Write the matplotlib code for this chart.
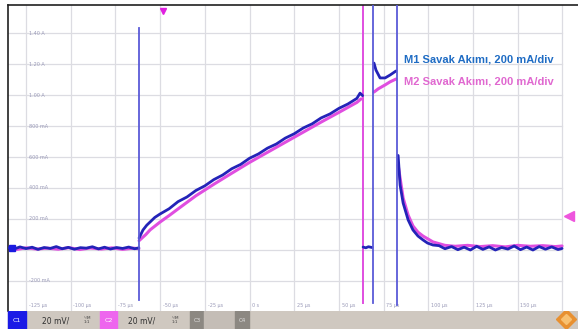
import matplotlib.pyplot as plt
from matplotlib.patches import Rectangle

# time in microseconds, current in mA (200 mA/div, 25 us/div)
base1_t = [-135.1, -131.8, -128.4, -125.0, -121.6, -118.3, -114.9, -111.5, -108.1, -104.8,
           -101.4, -98.0, -94.6, -91.3, -87.9, -84.5, -81.1, -77.8, -74.4, -71.0, -67.6, -64.3, -61.9]
base1_i = [14, 6, 20, 9, 18, 4, 16, 10, 22, 8, 17, 5, 15, 12, 21, 7, 18, 6, 16, 10, 19, 8, 14]

ramp1_t = [-61.8, -59.6, -57.5, -55.6, -53.0, -50.1, -45.0, -40.0, -35.0, -30.0, -25.0, -20.0,
           -15.0, -10.0, -5.0, 0.0, 5.0, 10.0, 15.0, 20.0, 25.0, 30.0, 35.0, 40.0, 45.0,
           50.0, 55.0, 60.0, 61.8, 63.2]
ramp1_i = [77, 129, 160, 181, 210, 232, 266, 312, 342, 384, 414, 454,
           484, 524, 552, 592, 620, 657, 684, 722, 750, 787, 814, 852, 878,
           914, 942, 978, 1012, 996]

gap1_t = [63.5, 65.0, 66.5, 68.5]
gap1_i = [19, 14, 21, 16]

mid1_t = [69.6, 70.7, 73.0, 75.8, 78.6, 81.9]
mid1_i = [1206, 1161, 1110, 1110, 1129, 1155]

decay1_t = [83.1, 84.2, 85.9, 88.7, 91.4, 94.2, 97.0, 99.5, 102.6, 106.0, 109.3,
            113.0, 116.5, 120.0, 123.5, 127.0, 130.5, 134.0, 137.5, 141.0, 144.5, 148.0,
            151.5, 155.0, 158.5, 162.0, 165.5, 169.0, 172.5, 174.8]
decay1_i = [610, 419, 303, 194, 129, 90, 65, 45, 32, 28, 8,
            22, 2, 18, 0, 24, 4, 20, 0, 16, 6, 26, 2, 19, 0, 22, 5, 20, 3, 10]

base2_t = [-135.1, -130.0, -125.0, -119.0, -113.0, -107.0, -101.0, -95.0, -89.0, -83.0,
           -77.0, -71.0, -65.0, -61.9]
base2_i = [10, 4, 14, 6, 12, 5, 15, 3, 13, 6, 14, 4, 12, 8]

ramp2_t = [-61.8, -58.0, -55.6, -50.1, -45.0, -40.0, -30.0, -20.0, -10.0, 0.0,
           10.0, 20.0, 30.0, 40.0, 50.0, 60.0, 62.4]
ramp2_i = [60, 100, 130, 180, 222, 265, 350, 424, 495, 565,
           630, 695, 760, 825, 888, 952, 975]

mid2_t = [69.6, 72.0, 75.8, 78.6, 81.9]
mid2_i = [1019, 1040, 1065, 1085, 1103]

decay2_t = [83.1, 85.9, 88.7, 91.4, 94.2, 97.0, 102.6, 109.3, 115.0, 122.0, 129.0,
            136.0, 143.0, 150.0, 157.0, 164.0, 171.0, 174.8]
decay2_i = [548, 335, 225, 155, 115, 90, 52, 30, 24, 30, 22, 28, 20, 30, 24, 28, 22, 26]

# vertical glitches: (time, bottom, top)
spikes_blue = [(-61.8, -323, 1432), (69.1, -342, 1581), (82.5, -355, 1581)]
spikes_pink = [(63.5, -342, 1581)]

y_labels = ['-200 mA', '', '200 mA', '400 mA', '600 mA', '800 mA', '1.00 A', '1.20 A', '1.40 A']
y_levels = [-200, 0, 200, 400, 600, 800, 1000, 1200, 1400]
x_levels = [-125, -100, -75, -50, -25, 0, 25, 50, 75, 100, 125, 150, 175]
x_labels = ['-125 µs', '-100 µs', '-75 µs', '-50 µs', '-25 µs', '0 s', '25 µs',
            '50 µs', '75 µs', '100 µs', '125 µs', '150 µs', '']

BLUE = '#2323b8'
PINK = '#e04ee0'

fig = plt.figure(figsize=(5.78, 3.29), dpi=100)
ax = fig.add_axes([8 / 578, 18 / 329, 570 / 578, 306 / 329])
ax.set_xlim(-135.1, 183.7)
ax.set_ylim(-393.6, 1580.7)
ax.set_xticks([])
ax.set_yticks([])
for s in ['right', 'bottom']:
    ax.spines[s].set_visible(False)
for s in ['top', 'left']:
    ax.spines[s].set_color('#202020')
    ax.spines[s].set_linewidth(1.2)

for xv in x_levels:
    ax.axvline(xv, color='#dcdce2', lw=0.9, zorder=0)
for yv in y_levels:
    ax.plot([-135.1, 175], [yv, yv], color='#dcdce2', lw=0.9, zorder=0)

for yv, lab in zip(y_levels, y_labels):
    ax.text(-123.5, yv, lab, fontsize=3.5, color='#9a9ab8', va='center', ha='left')
for xv, lab in zip(x_levels, x_labels):
    ax.text(xv + 1.5, -355, lab, fontsize=3.5, color='#9a9ab8', va='center', ha='left')

# pink trace (under)
for t, i in [(base2_t, base2_i), (ramp2_t, ramp2_i), (mid2_t, mid2_i), (decay2_t, decay2_i)]:
    ax.plot(t, i, color=PINK, lw=2.2, solid_capstyle='round', zorder=2)
for t, b, top in spikes_pink:
    ax.plot([t, t], [b, top], color=PINK, lw=1.4, zorder=2)

# blue trace (over)
for t, i in [(base1_t, base1_i), (ramp1_t, ramp1_i), (gap1_t, gap1_i), (mid1_t, mid1_i), (decay1_t, decay1_i)]:
    ax.plot(t, i, color=BLUE, lw=2.0, solid_capstyle='round', zorder=3)
for t, b, top in spikes_blue:
    ax.plot([t, t], [b, top], color='#5a5ad8', lw=1.3, zorder=3)

# channel markers
ax.plot([-133.0], [14], marker='s', ms=5, color='#1a1ae0', clip_on=False, zorder=4)
ax.plot([178.5], [219], marker='<', ms=7, color='#ee55dd', clip_on=False, zorder=4)
ax.plot([-48.4], [1545], marker='v', ms=5, color='#e020e0', clip_on=False, zorder=4)

ax.text(86.4, 1226, 'M1 Savak Akımı, 200 mA/div', color='#1f6cc4', fontsize=8,
        fontweight='bold', family='Liberation Sans', va='center', ha='left')
ax.text(86.4, 1084, 'M2 Savak Akımı, 200 mA/div', color='#e068d0', fontsize=8,
        fontweight='bold', family='Liberation Sans', va='center', ha='left')

# status bar
bar = fig.add_axes([0, 0, 1, 18 / 329])
bar.set_xlim(0, 578)
bar.set_ylim(0, 18)
bar.axis('off')
bar.add_patch(Rectangle((8, 0), 570, 18, color='#cfc8c0'))
bar.add_patch(Rectangle((8, 0), 18, 18, color='#1a1ae6'))
bar.text(17, 9, 'C1', color='white', fontsize=4.5, ha='center', va='center')
bar.text(42, 8, '20 mV/', color='#303030', fontsize=5.5, va='center')
bar.text(84, 9, '½M\n1:1', color='#404040', fontsize=3, va='center', linespacing=1.2)
bar.add_patch(Rectangle((100, 0), 17, 18, color='#ee66ee'))
bar.text(108.5, 9, 'C2', color='white', fontsize=4.5, ha='center', va='center')
bar.text(128, 8, '20 mV/', color='#303030', fontsize=5.5, va='center')
bar.text(172, 9, '½M\n1:1', color='#404040', fontsize=3, va='center', linespacing=1.2)
bar.add_patch(Rectangle((190, 0), 14, 18, color='#8c8882'))
bar.text(197, 9, 'C3', color='#e0e0e0', fontsize=4, ha='center', va='center')
bar.add_patch(Rectangle((204, 0), 31, 18, color='#c4bdb6'))
bar.add_patch(Rectangle((235, 0), 14, 18, color='#8c8882'))
bar.text(242, 9, 'C4', color='#e0e0e0', fontsize=4, ha='center', va='center')
bar.plot([566], [10], marker='D', ms=10, color='#e89030')
bar.plot([566], [10], marker='D', ms=5, color='#f8c070')

fig.savefig('out.png', dpi=100)
